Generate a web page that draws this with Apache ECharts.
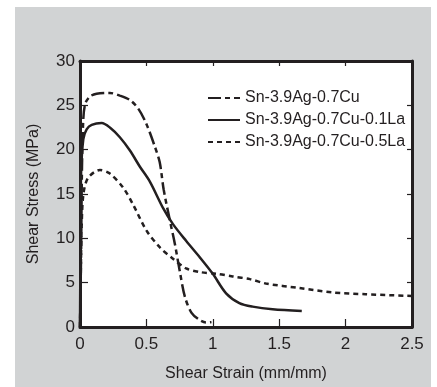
<!DOCTYPE html>
<html>
<head>
<meta charset="utf-8">
<script src="https://cdn.jsdelivr.net/npm/echarts@6/dist/echarts.min.js"></script>
<style>
html,body{margin:0;padding:0;background:#fff;}
#c{width:437px;height:387px;}
</style>
</head>
<body>
<div id="c"></div>
<script>
// ---- data ----
var seriesNames = ['Sn-3.9Ag-0.7Cu', 'Sn-3.9Ag-0.7Cu-0.1La', 'Sn-3.9Ag-0.7Cu-0.5La'];
var xTicks = [0, 0.5, 1, 1.5, 2, 2.5];
var yTicks = [0, 5, 10, 15, 20, 25, 30];

var strainA = [0, 0.008, 0.015, 0.025, 0.04, 0.075, 0.125, 0.225, 0.30, 0.376, 0.44, 0.50, 0.56, 0.60, 0.63, 0.677, 0.714, 0.75, 0.79, 0.84, 0.90, 0.95, 0.99];
var stressA = [0, 8, 18, 23.5, 25.2, 26.0, 26.3, 26.4, 26.1, 25.6, 24.6, 22.9, 20.5, 18.6, 15.5, 12.0, 9.4, 6.4, 3.4, 1.6, 0.8, 0.5, 0.55];

var strainB = [0, 0.004, 0.008, 0.025, 0.05, 0.088, 0.163, 0.225, 0.30, 0.376, 0.45, 0.526, 0.626, 0.70, 0.80, 0.90, 1.0, 1.10, 1.20, 1.30, 1.45, 1.67];
var stressB = [0, 10, 17.3, 21.2, 22.3, 22.8, 23.0, 22.5, 21.4, 19.9, 18.1, 16.4, 13.4, 11.6, 9.7, 7.9, 6.0, 3.8, 2.7, 2.3, 2.0, 1.8];

var strainC = [0, 0.005, 0.012, 0.025, 0.06, 0.15, 0.225, 0.326, 0.40, 0.50, 0.60, 0.70, 0.80, 0.90, 1.03, 1.15, 1.28, 1.40, 1.65, 1.90, 2.15, 2.5];
var stressC = [0, 5, 11, 14.9, 16.8, 17.7, 17.3, 15.7, 13.8, 10.9, 9.0, 7.7, 6.6, 6.2, 6.0, 5.7, 5.4, 4.9, 4.4, 3.9, 3.7, 3.5];

function pairs(xs, ys) { return xs.map(function (x, i) { return [x, ys[i]]; }); }

var ink = '#231f20';
var font = '"Liberation Sans", Arial, Helvetica, sans-serif';

var chart = echarts.init(document.getElementById('c'), null, { renderer: 'canvas' });
var baseLine = { color: ink, width: 2.5 };
chart.setOption({
  animation: false,
  backgroundColor: '#ffffff',
  graphic: [{
    type: 'rect', z: -10, silent: true,
    shape: { x: 15, y: 7, width: 416, height: 380 },
    style: { fill: '#d1d3d4' }
  }],
  grid: { left: 80, right: 25, top: 61, bottom: 56, show: true, backgroundColor: '#ffffff', borderWidth: 0 },
  legend: {
    orient: 'vertical', left: 202, top: 85, itemWidth: 32, itemHeight: 14, itemGap: 6,
    data: seriesNames,
    itemStyle: { opacity: 0 },
    textStyle: { color: ink, fontSize: 16, fontFamily: font }
  },
  xAxis: [{
    type: 'value', min: xTicks[0], max: xTicks[xTicks.length - 1], interval: 0.5,
    name: 'Shear Strain (mm/mm)', nameLocation: 'middle', nameGap: 39,
    nameTextStyle: { color: ink, fontSize: 16, fontFamily: font },
    axisLine: { show: true, onZero: false, lineStyle: { color: ink, width: 3 } },
    axisTick: { show: true, inside: true, length: 8, lineStyle: { color: ink, width: 1.2 } },
    axisLabel: { color: ink, fontSize: 17, fontFamily: font, margin: 9,
      formatter: function (v) { return String(v); } },
    splitLine: { show: false }
  }, {
    type: 'value', position: 'top', min: xTicks[0], max: xTicks[xTicks.length - 1], interval: 0.5,
    axisLine: { show: true, onZero: false, lineStyle: { color: ink, width: 3 } },
    axisTick: { show: true, inside: true, length: 5, lineStyle: { color: ink, width: 1.2 } },
    axisLabel: { show: false }, splitLine: { show: false }
  }],
  yAxis: [{
    type: 'value', min: yTicks[0], max: yTicks[yTicks.length - 1], interval: 5,
    name: 'Shear Stress (MPa)', nameLocation: 'middle', nameGap: 38,
    nameTextStyle: { color: ink, fontSize: 16, fontFamily: font },
    axisLine: { show: true, onZero: false, lineStyle: { color: ink, width: 3 } },
    axisTick: { show: true, inside: true, length: 8, lineStyle: { color: ink, width: 1.2 } },
    axisLabel: { color: ink, fontSize: 17, fontFamily: font, margin: 5 },
    splitLine: { show: false }
  }, {
    type: 'value', position: 'right', min: yTicks[0], max: yTicks[yTicks.length - 1], interval: 5,
    axisLine: { show: true, onZero: false, lineStyle: { color: ink, width: 3 } },
    axisTick: { show: true, inside: true, length: 5, lineStyle: { color: ink, width: 1.2 } },
    axisLabel: { show: false }, splitLine: { show: false }
  }],
  series: [{
    name: seriesNames[0], type: 'line', symbol: 'none', smooth: 0.3,
    data: pairs(strainA, stressA),
    lineStyle: Object.assign({}, baseLine, { type: [13, 4, 5, 4] }),
    itemStyle: { color: ink }
  }, {
    name: seriesNames[1], type: 'line', symbol: 'none', smooth: 0.3,
    data: pairs(strainB, stressB),
    lineStyle: Object.assign({}, baseLine, { type: 'solid' }),
    itemStyle: { color: ink }
  }, {
    name: seriesNames[2], type: 'line', symbol: 'none', smooth: 0.3,
    data: pairs(strainC, stressC),
    lineStyle: Object.assign({}, baseLine, { type: [5, 4] }),
    itemStyle: { color: ink }
  }]
});
</script>
</body>
</html>
